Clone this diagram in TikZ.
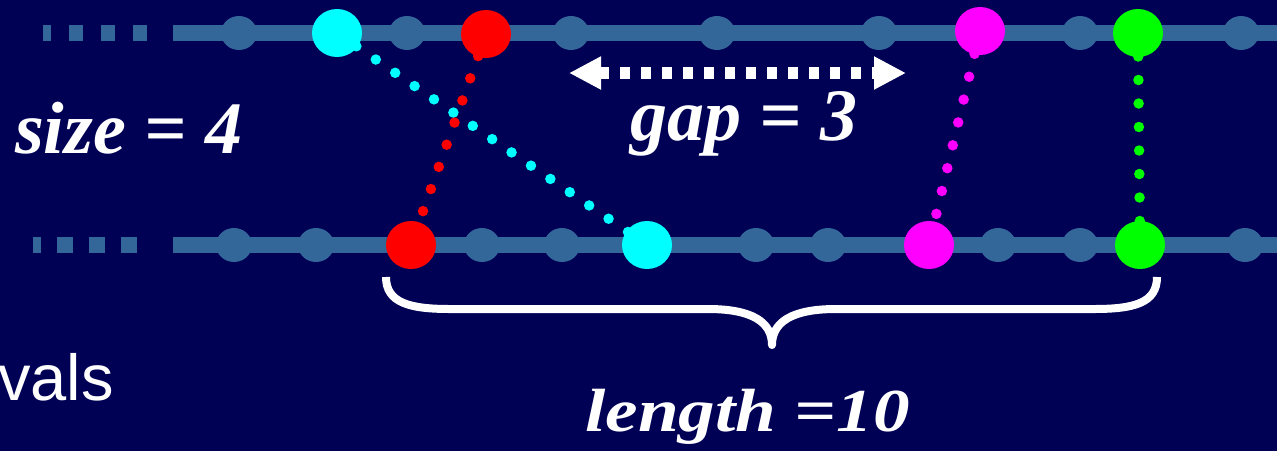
\documentclass[tikz,border=0pt]{standalone}
\usepackage{fontspec}
\setmainfont{Liberation Serif}
\newfontfamily\slidesans{Liberation Sans}
\usetikzlibrary{arrows.meta,shapes.geometric}
\definecolor{slidebg}{RGB}{0,0,85}
\definecolor{track}{RGB}{51,102,153}
\definecolor{hitcyan}{RGB}{0,255,255}
\definecolor{hitred}{RGB}{255,0,0}
\definecolor{hitmag}{RGB}{255,0,255}
\definecolor{hitgreen}{RGB}{0,255,0}
\pgfdeclarelayer{back}
\pgfdeclarelayer{links}
\pgfsetlayers{back,links,main}
\tikzset{
  trackline/.style={draw=track, line width=16pt},
  slot/.style={ellipse, fill=track, inner sep=0pt, minimum width=36pt, minimum height=34pt},
  hit/.style={ellipse, fill=#1, inner sep=0pt, minimum width=50pt, minimum height=48pt},
  link/.style={draw=#1, line width=10.5pt, line cap=round, dash pattern=on 0pt off 23.5pt},
  bigtext/.style={text=white, inner sep=0pt, anchor=base west,
        font=\bfseries\itshape\fontsize{74}{80}\selectfont},
}

\begin{document}
\begin{tikzpicture}[x=1pt, y=-1pt]

        \useasboundingbox (0,0) rectangle (1277,451);
        \begin{pgfonlayer}{back}
            \fill[slidebg] (0,0) rectangle (1277,451);
        \end{pgfonlayer}

        % the two tracks
        \coordinate (tdash) at (43,33);
        \coordinate (tdashend) at (147,33);
        \coordinate (tstart) at (173,33);
        \coordinate (tend) at (1277,33);
        \coordinate (bdash) at (33,245);
        \coordinate (bdashend) at (137,245);
        \coordinate (bstart) at (173,245);
        \coordinate (bend) at (1277,245);
        \draw[trackline, dash pattern=on 14pt off 18pt, dash phase=6pt] (tdash) -- (tdashend);
        \draw[trackline] (tstart) -- (tend);
        \draw[trackline, dash pattern=on 16pt off 16pt, dash phase=8pt] (bdash) -- (bdashend);
        \draw[trackline] (bstart) -- (bend);

        \foreach \x [count=\i] in {239,407,571,717,879,1080,1241}
            \node[slot] (t\i) at (\x,33) {};
        \foreach \x [count=\i] in {234,316,482,562,756,828,998,1080,1245}
            \node[slot] (b\i) at (\x,245) {};

        \node[hit=hitcyan] (tcyan) at (337,33) {};
        \node[hit=hitred] (tred) at (486,34) {};
        \node[hit=hitmag] (tmag) at (980,31) {};
        \node[hit=hitgreen] (tgreen) at (1138,33) {};
        \node[hit=hitred] (bred) at (411,245) {};
        \node[hit=hitcyan] (bcyan) at (647,245) {};
        \node[hit=hitmag] (bmag) at (929,245) {};
        \node[hit=hitgreen] (bgreen) at (1140,245) {};

        \begin{pgfonlayer}{links}
            \draw[link=hitcyan] (tcyan.center) -- (bcyan.center);
            \draw[link=hitred] (tred.center) -- (bred.center);
            \draw[link=hitmag] (tmag.center) -- (bmag.center);
            \draw[link=hitgreen] (tgreen.center) -- (bgreen.center);
        \end{pgfonlayer}

        % gap arrow
        \coordinate (gapl) at (569,73);
        \coordinate (gapr) at (906,73);
        \draw[white, line width=12pt, dash pattern=on 10pt off 11pt,
            {Triangle[length=32pt,width=31pt]}-{Triangle[length=32pt,width=31pt]}]
            (gapl) -- (gapr);

        % brace under the window
        \coordinate (bracel) at (386,277);
        \coordinate (bracetip) at (772,345);
        \coordinate (bracer) at (1157,277);
        \draw[white, line width=8pt, line join=round] (bracel)
            .. controls (386,303) and (410,309) .. (450,309) -- (708,309)
            .. controls (752,309) and (772,322) .. (bracetip)
            .. controls (772,322) and (792,309) .. (836,309) -- (1094,309)
            .. controls (1134,309) and (1157,303) .. (bracer);

        \node[bigtext] (size) at (15,153) {size = 4};
        \node[bigtext] (gap) at (630,140) {gap = 3};
        \node[bigtext, font=\bfseries\itshape\fontsize{61}{66}\selectfont] (len)
            at (585,431) {\scalebox{1.2}[1]{length =10}};
        \node[text=white, inner sep=0pt, anchor=base west,
            font=\slidesans\fontsize{65}{70}\selectfont] (vals) at (-2,400) {vals};

\end{tikzpicture}
\end{document}
